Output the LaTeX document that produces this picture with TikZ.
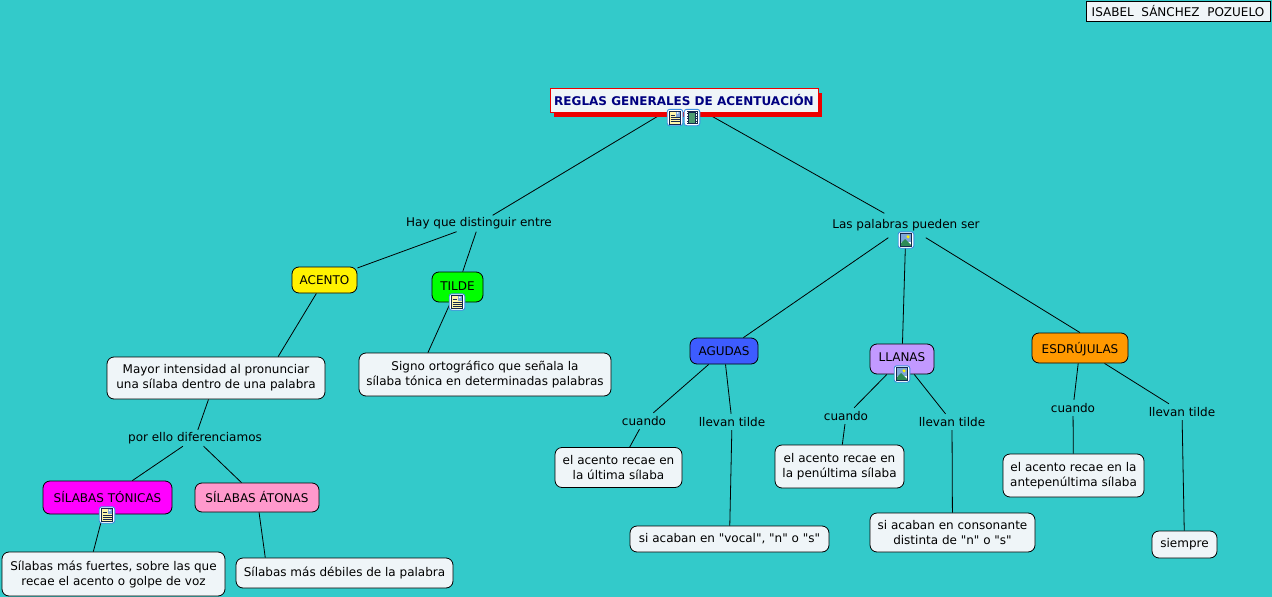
\documentclass[tikz,border=0pt]{standalone}
\usepackage{fontspec}
\newfontfamily\mapfont{DejaVu Sans}
\usepackage{xcolor}
\usetikzlibrary{shadows, backgrounds}

\definecolor{seaback}{HTML}{33CACA}
\definecolor{paleblue}{HTML}{EFF5F8}
\definecolor{titlenavy}{HTML}{000080}
\definecolor{titlered}{HTML}{EE0000}
\definecolor{iconrim}{HTML}{3C8CE0}
\definecolor{iconink}{HTML}{14284C}
\definecolor{iconpaper}{HTML}{FFF6A8}
\definecolor{iconsky}{HTML}{7FA6D8}
\definecolor{iconhill}{HTML}{2E8B57}
\definecolor{tonicafill}{HTML}{FF00FF}
\definecolor{atonafill}{HTML}{FF99CC}
\definecolor{agudafill}{HTML}{3D5CFF}
\definecolor{llanafill}{HTML}{C299FF}
\definecolor{esdrujulafill}{HTML}{FF9900}

\newcommand{\iconframe}{
    \draw[iconrim, fill=white, line width=0.9pt, rounded corners=2.5pt] (-7.8,-8.2) rectangle (7.8,8.2);
}
\tikzset{
    conceptbox/.style={draw=black, rounded corners=7pt, line width=0.8pt, inner sep=0pt, align=center},
    textbox/.style={conceptbox, fill=paleblue},
    linklabel/.style={inner sep=0pt, minimum height=16pt, align=center},
    docicon/.pic={
        \iconframe
        \fill[iconpaper, draw=iconink, line width=0.7pt] (-5.5,-6.5) rectangle (5.5,6.5);
        \fill[iconsky] (0.5,-6) rectangle (5,-1);
        \fill[white] (2.8,-4.6) circle (1);
        \foreach \liney in {-2.5,0,2,4}
            \draw[iconink, line width=0.8pt] (-4.5,\liney) -- (\ifdim\liney pt<0pt -0.5\else 4.5\fi,\liney);
    },
    filmicon/.pic={
        \iconframe
        \fill[iconink] (-5.5,-6.5) rectangle (5.5,6.5);
        \fill[iconhill!85!white] (-2.8,-5) rectangle (2.8,5);
        \foreach \holey in {-5,-2.5,0,2.5,5} {
            \fill[white] (-4.8,\holey-0.6) rectangle (-3.6,\holey+0.6);
            \fill[white] (3.6,\holey-0.6) rectangle (4.8,\holey+0.6);
        }
    },
    imageicon/.pic={
        \iconframe
        \fill[white, draw=iconink, line width=0.7pt] (-5.5,-6.5) rectangle (5.5,6.5);
        \fill[iconsky] (-4.8,-5.8) rectangle (4.8,2);
        \fill[yellow] (2,-3.2) circle (1.7);
        \fill[iconhill] (-4.8,5.8) -- (-4.8,3) -- (-1,-1) -- (4.8,4.6) -- (4.8,5.8) -- cycle;
    }
}

\begin{document}
\begin{tikzpicture}[x=1pt, y=-1pt, every node/.style={font=\mapfont\fontsize{12}{15}\selectfont}]
    \useasboundingbox (0,0) rectangle (1272,597);

    % Author and title
    \node[draw=black, fill=paleblue, line width=0.8pt, inner sep=0pt, minimum width=184, minimum height=20] (author) at (1178,11) {ISABEL~~SÁNCHEZ~~POZUELO};
    \node[draw=titlered, fill=paleblue, line width=0.8pt, inner sep=0pt, minimum width=268, minimum height=24,
          text=titlenavy, font=\mapfont\fontsize{12}{15}\selectfont\bfseries,
          general shadow={fill=titlered, shadow xshift=4pt, shadow yshift=-4pt}] (title) at (684,100.5) {REGLAS GENERALES DE ACENTUACIÓN};

    % Left branch
    \node[linklabel] (hayque) at (479,223.5) {Hay que distinguir entre};
    \node[conceptbox, fill=yellow, minimum width=65, minimum height=26] (acento) at (324.5,280) {ACENTO};
    \node[conceptbox, fill=green, minimum width=51, minimum height=30, text depth=2] (tilde) at (457.5,287) {TILDE};
    \node[textbox, minimum width=218, minimum height=42] (mayor) at (216,378) {Mayor intensidad al pronunciar\\una sílaba dentro de una palabra};
    \node[textbox, minimum width=252, minimum height=43] (signo) at (485,374.5) {Signo ortográfico que señala la\\sílaba tónica en determinadas palabras};
    \node[linklabel] (porello) at (195,438) {por ello diferenciamos};
    \node[conceptbox, fill=tonicafill, minimum width=129, minimum height=33, text depth=2] (tonicas) at (107.5,497.5) {SÍLABAS TÓNICAS};
    \node[conceptbox, fill=atonafill, minimum width=124, minimum height=29] (atonas) at (257,497.5) {SÍLABAS ÁTONAS};
    \node[textbox, minimum width=223, minimum height=44] (fuertes) at (113.5,574) {Sílabas más fuertes, sobre las que\\recae el acento o golpe de voz};
    \node[textbox, minimum width=217, minimum height=30] (debiles) at (344.5,573) {Sílabas más débiles de la palabra};

    % Right branch
    \node[linklabel, minimum height=24] (laspalabras) at (906,225.5) {Las palabras pueden ser};
    \node[conceptbox, fill=agudafill, minimum width=68, minimum height=26] (agudas) at (724,351) {AGUDAS};
    \node[conceptbox, fill=llanafill, minimum width=64, minimum height=30, text depth=4] (llanas) at (902,359) {LLANAS};
    \node[conceptbox, fill=esdrujulafill, minimum width=96, minimum height=30, text height=13] (esdrujulas) at (1080,348) {ESDRÚJULAS};

    \node[linklabel] (cuandoA) at (644,421) {cuando};
    \node[linklabel] (llevanA) at (732,422) {llevan tilde};
    \node[textbox, minimum width=127, minimum height=40] (ultima) at (618.5,467.5) {el acento recae en\\la última sílaba};
    \node[textbox, minimum width=199, minimum height=26] (vocal) at (729.5,539) {si acaban en "vocal", "n" o "s"};

    \node[linklabel] (cuandoL) at (846,416) {cuando};
    \node[linklabel] (llevanL) at (952,422) {llevan tilde};
    \node[textbox, minimum width=129, minimum height=43] (penultima) at (839.5,466.5) {el acento recae en\\la penúltima sílaba};
    \node[textbox, minimum width=165, minimum height=39] (consonante) at (952.5,532.5) {si acaban en consonante\\distinta de "n" o "s"};

    \node[linklabel] (cuandoE) at (1073,408) {cuando};
    \node[linklabel] (llevanE) at (1182,412) {llevan tilde};
    \node[textbox, minimum width=141, minimum height=43] (antepenultima) at (1073.5,475.5) {el acento recae en la\\antepenúltima sílaba};
    \node[textbox, minimum width=65, minimum height=27] (siempre) at (1184.5,544.5) {siempre};

    % Icons on the boxes
    \pic (icontitledoc) at (675,117.5) {docicon};
    \pic (icontitlefilm) at (692,117.5) {filmicon};
    \pic (icontilde) at (457,302) {docicon};
    \pic (icontonicas) at (107,515) {docicon};
    \pic (iconpalabras) at (906,240) {imageicon};
    \pic (iconllanas) at (902,374) {imageicon};

    \begin{pgfonlayer}{background}
        \fill[seaback] (0,0) rectangle (1272,597);
        \path[draw=black, line width=0.8pt]
              % Left branch
              (title) edge (hayque)
              (hayque) edge (acento)
              (hayque) edge (tilde)
              (acento) edge (mayor.19)
              (tilde) edge (signo.159)
              (mayor) edge (porello)
              (porello) edge (tonicas)
              (porello) edge (atonas)
              (tonicas) edge (fuertes.132)
              (atonas) edge (debiles.169)
              % Right branch
              (title) edge (laspalabras)
              (laspalabras) edge (agudas)
              (laspalabras) edge (llanas)
              (laspalabras) edge (esdrujulas.north)
              (agudas) edge (cuandoA)
              (agudas) edge (llevanA)
              (cuandoA) edge (ultima)
              (llevanA) edge (vocal)
              (llanas) edge (cuandoL)
              (llanas) edge (llevanL)
              (cuandoL) edge (penultima)
              (llevanL) edge (consonante)
              (esdrujulas) edge (cuandoE)
              (esdrujulas) edge (llevanE)
              (cuandoE) edge (antepenultima)
              (llevanE) edge (siempre);
    \end{pgfonlayer}
\end{tikzpicture}
\end{document}
